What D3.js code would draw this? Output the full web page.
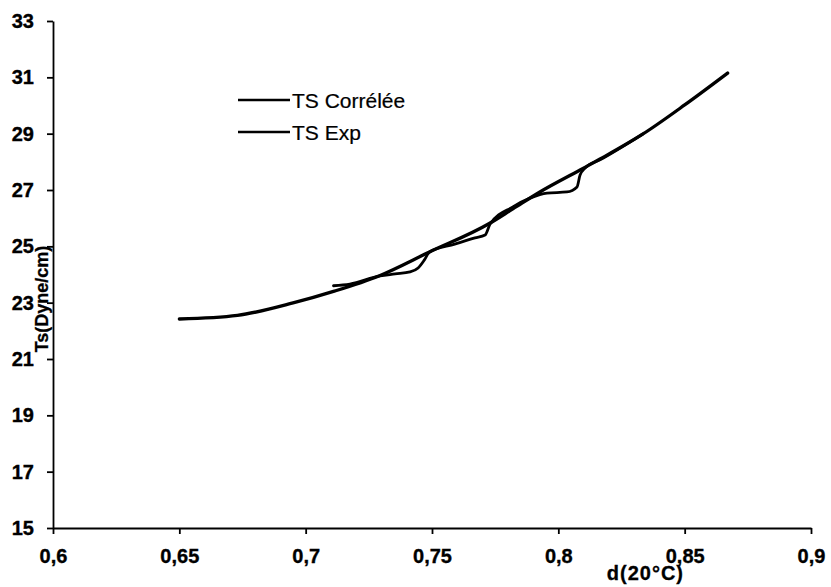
<!DOCTYPE html>
<html>
<head>
<meta charset="utf-8">
<script src="https://cdn.jsdelivr.net/npm/d3@7/dist/d3.min.js"></script>
<style>
  body { margin: 0; background: #fff; }
  svg { display: block; }
  .axis path, .axis line { stroke: #000; stroke-width: 1.8; }
  .axis text { font-family: "Liberation Sans", Arial, sans-serif; font-weight: bold; fill: #000; stroke: #000; stroke-width: 0.35; }
</style>
</head>
<body>
<svg id="chart" width="831" height="587"></svg>
<script>
// Surface tension vs. density at 20 °C
const dCorr  = [0.650, 0.673, 0.695, 0.711, 0.729, 0.749, 0.7725, 0.782, 0.7927, 0.8086, 0.8165, 0.8335, 0.850, 0.867];
const tsCorr = [22.42, 22.55, 22.99, 23.40, 23.95, 24.80, 25.80, 26.33, 26.93, 27.71, 28.10, 28.99, 30.02, 31.15];

const dExp  = [0.711, 0.7175, 0.7294, 0.7354, 0.7413, 0.7445, 0.747, 0.749, 0.759, 0.767, 0.771, 0.773, 0.782, 0.789, 0.7955, 0.8034, 0.8074, 0.8086, 0.8106, 0.8165, 0.8335];
const tsExp = [23.60, 23.66, 23.95, 24.02, 24.09, 24.23, 24.52, 24.80, 25.08, 25.30, 25.40, 25.79, 26.40, 26.72, 26.89, 26.93, 27.11, 27.53, 27.78, 28.07, 28.99];

const xTicks = [0.6, 0.65, 0.7, 0.75, 0.8, 0.85, 0.9];
const yTicks = [15, 17, 19, 21, 23, 25, 27, 29, 31, 33];
const seriesNames = ["TS Corrélée", "TS Exp"];
const xTitle = "d(20°C)";
const yTitle = "Ts(Dyne/cm)";

const svg = d3.select("#chart");
const x = d3.scaleLinear().domain([0.6, 0.9]).range([53, 811]);
const y = d3.scaleLinear().domain([15, 33]).range([528, 21]);
const comma = v => String(v).replace(".", ",");
const font = "Liberation Sans, Arial, sans-serif";

// axes
const gx = svg.append("g").attr("class", "axis")
  .attr("transform", `translate(0,${y(15)})`)
  .call(d3.axisBottom(x).tickValues(xTicks).tickFormat(comma).tickSize(6).tickSizeOuter(0).tickPadding(15));
gx.selectAll("text").style("font-size", "20px");

const gy = svg.append("g").attr("class", "axis")
  .attr("transform", `translate(${x(0.6)},0)`)
  .call(d3.axisLeft(y).tickValues(yTicks).tickFormat(comma).tickSize(6).tickSizeOuter(0).tickPadding(13));
gy.selectAll("text").style("font-size", "20px");

// axis titles
svg.append("text")
  .attr("transform", "translate(48,299) rotate(-90)")
  .attr("text-anchor", "middle")
  .style("font-family", font)
  .style("font-weight", "bold").style("font-size", "18px")
  .attr("stroke", "#000").attr("stroke-width", 0.3)
  .text(yTitle);

svg.append("text")
  .attr("x", 684).attr("y", 580)
  .attr("text-anchor", "end")
  .style("font-family", font)
  .style("font-weight", "bold").style("font-size", "20px")
  .style("letter-spacing", "1px")
  .attr("stroke", "#000").attr("stroke-width", 0.3)
  .text(xTitle);

// series
const line = d3.line().x(d => x(d[0])).y(d => y(d[1])).curve(d3.curveMonotoneX);
svg.append("path")
  .datum(d3.zip(dCorr, tsCorr))
  .attr("fill", "none").attr("stroke", "#000").attr("stroke-width", 3.3)
  .attr("stroke-linecap", "round").attr("stroke-linejoin", "round")
  .attr("d", line);
svg.append("path")
  .datum(d3.zip(dExp, tsExp))
  .attr("fill", "none").attr("stroke", "#000").attr("stroke-width", 2.8)
  .attr("stroke-linecap", "round").attr("stroke-linejoin", "round")
  .attr("d", line);

// legend
const legend = svg.append("g").attr("transform", "translate(238,100)");
seriesNames.forEach((name, i) => {
  const row = legend.append("g").attr("transform", `translate(0,${i * 32})`);
  row.append("line").attr("x1", 0).attr("x2", 52).attr("y1", 0).attr("y2", 0)
    .attr("stroke", "#000").attr("stroke-width", 2.4);
  row.append("text").attr("x", 54).attr("y", 8)
    .style("font-family", font)
    .style("font-size", "21px").attr("fill", "#000")
    .attr("stroke", "#000").attr("stroke-width", 0.2)
    .text(name);
});
</script>
</body>
</html>
